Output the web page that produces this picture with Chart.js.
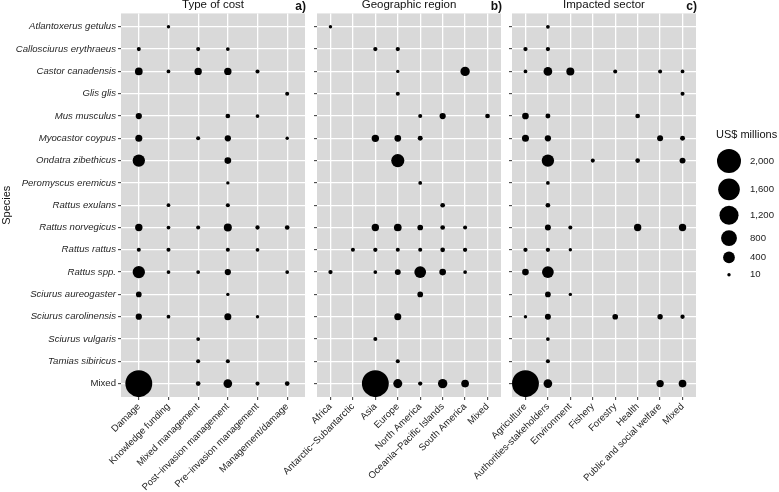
<!DOCTYPE html>
<html><head><meta charset="utf-8">
<script src="https://cdn.jsdelivr.net/npm/chart.js@4.4.1/dist/chart.umd.min.js"></script>
<style>
html,body{margin:0;padding:0;background:#fff;}
#wrap{position:relative;width:779px;height:492px;overflow:hidden;background:#fff;}
#wrap canvas{position:absolute;left:0;top:0;}
</style></head><body>
<div id="wrap">
<canvas id="pa" width="779" height="492"></canvas>
<canvas id="pb" width="779" height="492"></canvas>
<canvas id="pc" width="779" height="492"></canvas>
</div>
<script>
const species = ['Atlantoxerus getulus','Callosciurus erythraeus','Castor canadensis','Glis glis','Mus musculus','Myocastor coypus','Ondatra zibethicus','Peromyscus eremicus','Rattus exulans','Rattus norvegicus','Rattus rattus','Rattus spp.','Sciurus aureogaster','Sciurus carolinensis','Sciurus vulgaris','Tamias sibiricus','Mixed'];
const costTypes = ['Damage','Knowledge funding','Mixed management','Post\u2212invasion management','Pre\u2212invasion management','Management/damage'];
const regions = ['Africa','Antarctic\u2212Subantarctic','Asia','Europe','North America','Oceania\u2212Pacific Islands','South America','Mixed'];
const sectors = ['Agriculture','Authorities-stakeholders','Environment','Fishery','Forestry','Health','Public and social welfare','Mixed'];
const _ = null;
// US$ millions, rows follow species, columns follow costTypes
const costByType = [
  [_,10,_,_,_,_],
  [20,_,20,15,_,_],
  [140,15,125,125,20,_],
  [_,_,_,_,_,20],
  [80,_,_,33,15,_],
  [110,_,20,80,_,10],
  [450,_,_,95,_,_],
  [_,_,_,10,_,_],
  [_,15,_,20,_,_],
  [125,15,20,155,25,33],
  [20,20,_,20,15,_],
  [450,15,15,80,_,15],
  [60,_,_,10,_,_],
  [80,15,_,110,10,_],
  [_,_,15,_,_,_],
  [_,_,20,20,_,_],
  [2550,_,33,190,20,33]
];
// columns follow regions
const costByRegion = [
  [10,_,_,_,_,_,_,_],
  [_,_,25,25,_,_,_,_],
  [_,_,_,10,_,_,230,_],
  [_,_,_,20,_,_,_,_],
  [_,_,_,_,20,80,_,33],
  [_,_,125,95,40,_,_,_],
  [_,_,_,520,_,_,_,_],
  [_,_,_,_,15,_,_,_],
  [_,_,_,_,_,33,_,_],
  [_,_,125,140,60,33,20,_],
  [_,20,25,20,20,33,25,_],
  [25,_,15,70,400,95,15,_],
  [_,_,_,_,60,_,_,_],
  [_,_,_,110,_,_,_,_],
  [_,_,20,_,_,_,_,_],
  [_,_,_,20,_,_,_,_],
  [_,_,2550,210,25,230,140,_]
];
// columns follow sectors
const costBySector = [
  [_,15,_,_,_,_,_,_],
  [25,25,_,_,_,_,_,_],
  [15,190,155,_,20,_,20,15],
  [_,_,_,_,_,_,_,20],
  [95,40,_,_,_,33,_,_],
  [110,80,_,_,_,_,70,40],
  [_,450,_,20,_,33,_,70],
  [_,15,_,_,_,_,_,_],
  [_,33,_,_,_,_,_,_],
  [_,70,20,_,_,125,_,125],
  [25,25,10,_,_,_,_,_],
  [95,400,_,_,_,_,_,_],
  [_,60,10,_,_,_,_,_],
  [10,70,_,_,60,_,50,25],
  [_,15,_,_,_,_,_,_],
  [_,20,_,_,_,_,_,_],
  [2550,190,_,_,_,_,125,140]
];
const legendBreaks = [2000,1600,1200,800,400,10];
const legendLabels = ['2,000','1,600','1,200','800','400','10'];

const FONT = "'Liberation Sans', Arial, Helvetica, sans-serif";
const TICK_COLOR = '#262626';
function radiusFor(v){ return 1.7 + 0.248*(Math.sqrt(v)-Math.sqrt(10)); }
function toPoints(matrix){
  const pts=[];
  matrix.forEach((row,i)=>row.forEach((v,j)=>{ if(v!==null) pts.push({x:j,y:i,v:v}); }));
  return pts;
}

const panelBg = { id:'panelBg', beforeDraw(chart){
  const {ctx, chartArea:a} = chart;
  ctx.save(); ctx.fillStyle='#d9d9d9'; ctx.fillRect(a.left,a.top,a.right-a.left,a.bottom-a.top); ctx.restore();
}};
const facetTitle = { id:'facetTitle', afterDraw(chart, args, opts){
  const {ctx, chartArea:a} = chart;
  ctx.save();
  ctx.fillStyle='#111';
  ctx.font = '11.5px ' + FONT;
  ctx.textAlign='center'; ctx.textBaseline='alphabetic';
  ctx.fillText(opts.text, (a.left+a.right)/2, 7.5);
  ctx.font = 'bold 12px ' + FONT;
  ctx.textAlign='right';
  ctx.fillText(opts.tag, a.right+1, 10);
  ctx.restore();
}};
const sizeLegend = { id:'sizeLegend', afterDraw(chart, args, opts){
  if(!opts.show) return;
  const ctx = chart.ctx;
  ctx.save();
  ctx.fillStyle='#111';
  ctx.font = '11px ' + FONT;
  ctx.textAlign='left'; ctx.textBaseline='alphabetic';
  ctx.fillText('US$ millions', 716, 138);
  let y = 161, prevH = null;
  legendBreaks.forEach((v,k)=>{
    const r = radiusFor(v);
    const h = Math.max(2*r+5.5, 17.3);
    if(prevH!==null) y += (prevH+h)/2;
    prevH = h;
    ctx.fillStyle='#000';
    ctx.beginPath(); ctx.arc(729, y, r, 0, Math.PI*2); ctx.fill();
    ctx.fillStyle='#222';
    ctx.font = '9.6px ' + FONT;
    ctx.textBaseline='middle';
    ctx.fillText(legendLabels[k], 750, y);
  });
  ctx.restore();
}};

function makePanel(id, cats, matrix, cfg){
  new Chart(document.getElementById(id), {
    type:'bubble',
    data:{ datasets:[{
      data: toPoints(matrix),
      backgroundColor:'#000',
      borderWidth:0,
      hoverBorderWidth:0,
      radius: ctx => radiusFor(ctx.raw.v),
      hoverRadius:0
    }]},
    options:{
      responsive:false, animation:false, devicePixelRatio:1,
      events:[],
      layout:{ padding:{ left:cfg.padLeft, right:cfg.padRight, top:13, bottom:0 } },
      plugins:{
        legend:{display:false}, tooltip:{enabled:false},
        facetTitle:{ text:cfg.title, tag:cfg.tag },
        sizeLegend:{ show:!!cfg.legend }
      },
      scales:{
        x:{
          type:'linear', min:-0.6, max:cats.length-0.4,
          afterBuildTicks: s => { s.ticks = cats.map((c,i)=>({value:i})); },
          afterFit: s => { s.height = 95; },
          grid:{ color:'#ffffff', lineWidth:1.3, tickColor:'#333', tickLength:3, tickWidth:1, drawTicks:true },
          border:{ display:false },
          ticks:{ autoSkip:false, minRotation:45, maxRotation:45, padding:1, color:TICK_COLOR,
            font:{ family:FONT, size:9.6 }, callback: v => cats[v] }
        },
        y:{
          type:'linear', reverse:true, min:-0.6, max:species.length-0.4,
          afterBuildTicks: s => { s.ticks = species.map((c,i)=>({value:i})); },
          afterFit: s => { s.width = cfg.yWidth; },
          grid:{ color:'#ffffff', lineWidth:1.3, tickColor:'#333', tickLength:3, tickWidth:1, drawTicks:true },
          border:{ display:false },
          title:{ display:!!cfg.yTitle, text:'Species', color:'#111', font:{family:FONT, size:11}, padding:{top:0,bottom:0} },
          ticks:{ autoSkip:false, padding:2, color:TICK_COLOR,
            font: ctx => ({ family:FONT, size:9.6, style: (ctx.tick && species[ctx.tick.value]==='Mixed') ? 'normal' : 'italic' }),
            callback: v => cfg.yLabels ? species[v] : '' }
        }
      }
    },
    plugins:[panelBg, facetTitle, sizeLegend]
  });
}

makePanel('pa', costTypes, costByType, {padLeft:0, padRight:474, yWidth:121, yTitle:true, yLabels:true, title:'Type of cost', tag:'a)'});
makePanel('pb', regions, costByRegion, {padLeft:305, padRight:278, yWidth:12, yTitle:false, yLabels:false, title:'Geographic region', tag:'b)'});
makePanel('pc', sectors, costBySector, {padLeft:500, padRight:83, yWidth:12, yTitle:false, yLabels:false, title:'Impacted sector', tag:'c)', legend:true});
</script>
</body></html>
